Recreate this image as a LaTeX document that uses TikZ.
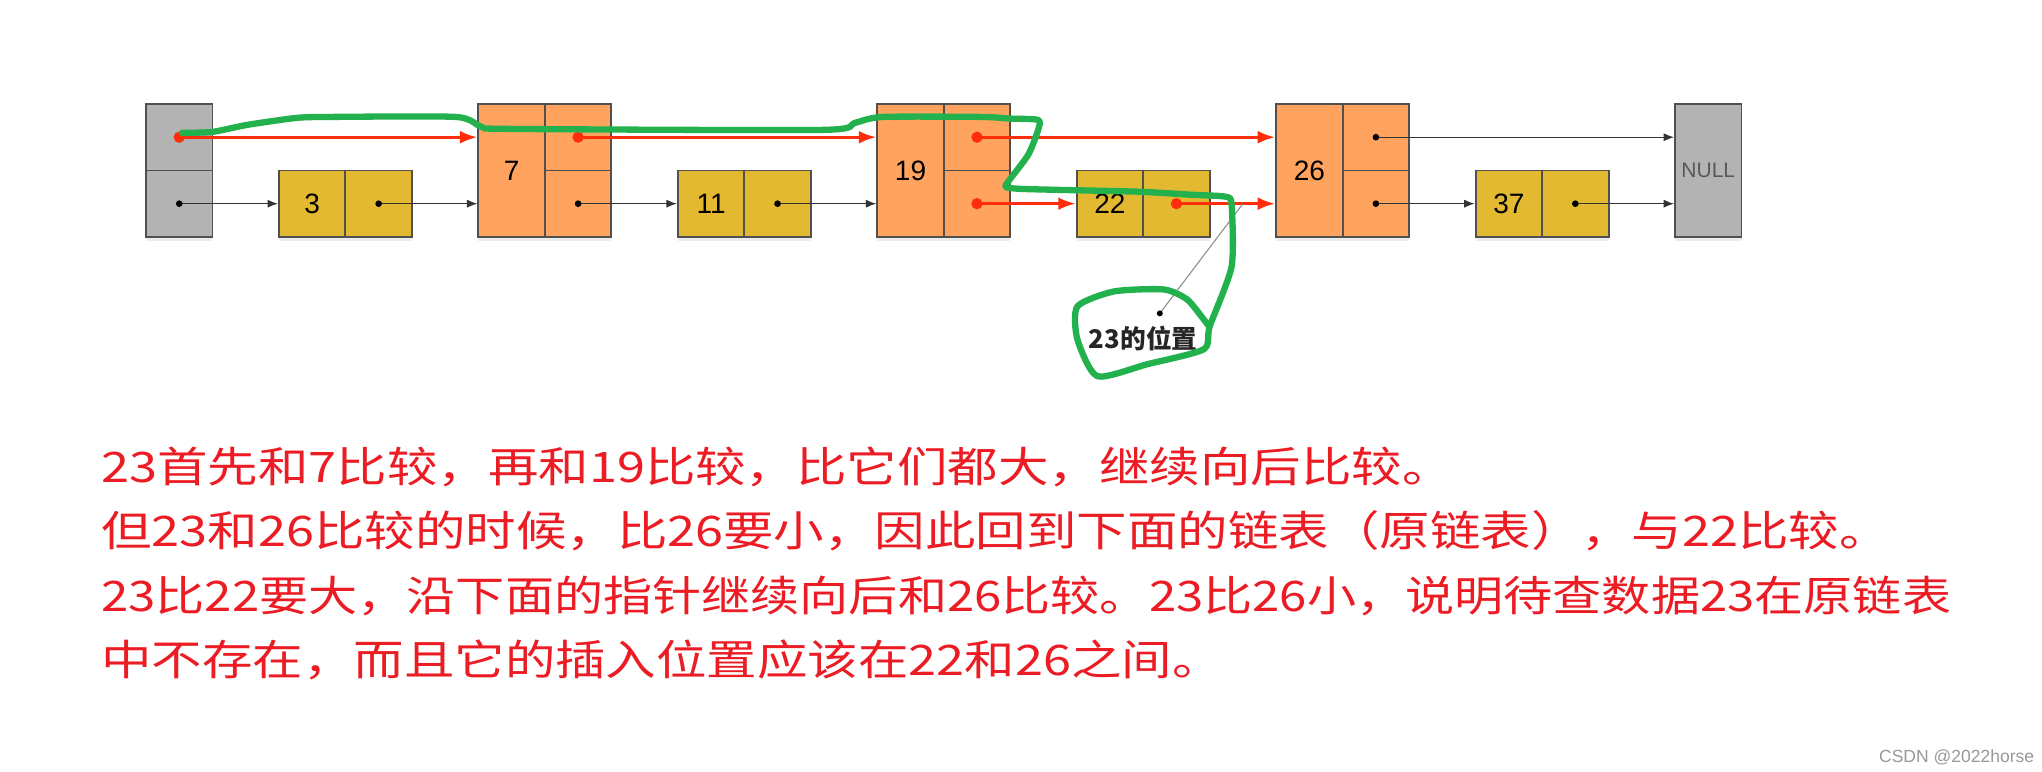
\documentclass[tikz,border=0pt]{standalone}
\usepackage{fontspec}
\usepackage{tikz}
\usetikzlibrary{arrows.meta,positioning,calc,shadows}
\setsansfont{Liberation Sans}
\newfontfamily\cjkfont{Noto Sans CJK SC}
\newfontfamily\cjkwide[FakeStretch=1.2]{Noto Sans CJK SC}
\newfontfamily\cjktight[FakeStretch=1.168]{Noto Sans CJK SC}
\definecolor{headgray}{RGB}{179,179,179}
\definecolor{towerorange}{RGB}{255,163,95}
\definecolor{nodeyellow}{RGB}{227,185,50}
\definecolor{celledge}{RGB}{80,80,80}
\definecolor{searchred}{RGB}{255,45,10}
\definecolor{textred}{RGB}{236,28,36}
\definecolor{pengreen}{RGB}{34,177,76}
\tikzset{
  cell/.style={draw=celledge, line width=0.8pt, minimum width=1cm, minimum height=1cm, inner sep=0pt,
    font=\sffamily\fontsize{12}{14}\selectfont,
    drop shadow={shadow xshift=0cm, shadow yshift=-0.06cm, opacity=0.15}},
  headcell/.style={cell, fill=headgray},
  nullcell/.style={cell, fill=headgray, minimum height=2cm, text=black!65, font=\sffamily\fontsize{9}{10}\selectfont},
  tallcell/.style={cell, fill=towerorange, minimum height=2cm},
  ocell/.style={cell, fill=towerorange},
  ycell/.style={cell, fill=nodeyellow},
  blkptr/.style={-{Latex[length=4.5pt,width=3.5pt]}, line width=0.55pt, black!80},
  redptr/.style={-{Latex[length=7.5pt,width=5.5pt]}, line width=1.3pt, searchred},
  penline/.style={draw=pengreen, line width=2.7pt, line cap=round, line join=round},
  explain/.style={anchor=base west, text=textred, inner sep=0pt, font=\cjkwide\fontsize{18}{20}\selectfont}
}

\begin{document}
\begin{tikzpicture}
% Canvas
\path[fill=white, use as bounding box] (-2.196,1.564) rectangle (28.52,-10.034);

% Head node (two levels)
\node[headcell] (head1) at (0.5,-0.5) {};
\node[headcell] (head2) at (0.5,-1.5) {};

% Level-0 nodes
\foreach \x/\val in {2/3, 8/11, 14/22, 20/37} {
    \node[ycell] (val\val) at (\x+0.5,-1.5) {\val};
    \node[ycell] (ptr\val) at (\x+1.5,-1.5) {};
}

% Level-1 nodes
\foreach \x/\val in {5/7, 11/19, 17/26} {
    \node[tallcell] (val\val) at (\x+0.5,-1) {\val};
    \node[ocell] (up\val) at (\x+1.5,-0.5) {};
    \node[ocell] (low\val) at (\x+1.5,-1.5) {};
}

% Tail
\node[nullcell] (null) at (23.5,-1) {NULL};

% Plain pointers
\foreach \from/\to in {head2/val3, ptr3/val7, low7/val11, ptr11/val19, up26/null, low26/val37, ptr37/null} {
    \draw[blkptr] (\from.center) -- (\from.center -| \to.west);
    \fill[black] (\from) circle (0.05);
}

% Search path
\foreach \from/\to in {head1/val7, up7/val19, up19/val26, low19/val22, ptr22/val26} {
    \draw[redptr] (\from.center) -- (\from.center -| \to.west);
    \fill[searchred] (\from) circle (0.085);
}

% Insertion point
\coordinate (gap) at ($(ptr22.east)!0.5!(ptr22.east -| val26.west)$);
\node[text=black!85, font=\cjkfont\bfseries\fontsize{11}{13}\selectfont] (pos23) at (15.0,-3.52) {23的位置};
\coordinate (pdot) at (15.25,-3.15);
\draw[black!45, line width=0.45pt] (pdot) -- (gap);
\fill[black] (pdot) circle (0.045);

% Hand-drawn search trace
\draw[penline] plot[smooth, tension=0.4] coordinates {
  (0.54,-0.435) (1.0,-0.42) (1.52,-0.315) (2.26,-0.21) (2.76,-0.195) (4.66,-0.195)
  (5.05,-0.345) (5.46,-0.375) (10.17,-0.39) (10.66,-0.285) (11.08,-0.195) (12.57,-0.195)
  (13.0,-0.22) (13.42,-0.24) (13.42,-0.39) (13.27,-0.765) (12.99,-1.14) (12.93,-1.245)
  (13.11,-1.275) (13.63,-1.29) (14.94,-1.32) (15.72,-1.365) (16.24,-1.395) (16.33,-1.515)
  (16.33,-2.445) (16.0,-3.345) (15.91,-3.69) (15.06,-3.915) (14.31,-4.095) (14.01,-3.54)
  (14.01,-3.045) (14.56,-2.82) (15.31,-2.79) (15.66,-2.94) (15.91,-3.24) (16.0,-3.36)};

% Explanation
\node[explain] (line1) at (-0.68,-5.69) {23首先和7比较，再和19比较，比它们都大，继续向后比较。};
\node[explain] (line2) at (-0.68,-6.66) {但23和26比较的时候，比26要小，因此回到下面的链表（原链表），与22比较。};
\node[explain, font=\cjktight\fontsize{18}{20}\selectfont] (line3) at (-0.68,-7.63) {23比22要大，沿下面的指针继续向后和26比较。23比26小，说明待查数据23在原链表};
\node[explain] (line4) at (-0.68,-8.6) {中不存在，而且它的插入位置应该在22和26之间。};

% Watermark
\node[anchor=base east, inner sep=0pt, text=black!40, font=\sffamily\fontsize{7.5}{8}\selectfont] (mark) at (28.41,-9.9) {CSDN @2022horse};
\end{tikzpicture}
\end{document}
